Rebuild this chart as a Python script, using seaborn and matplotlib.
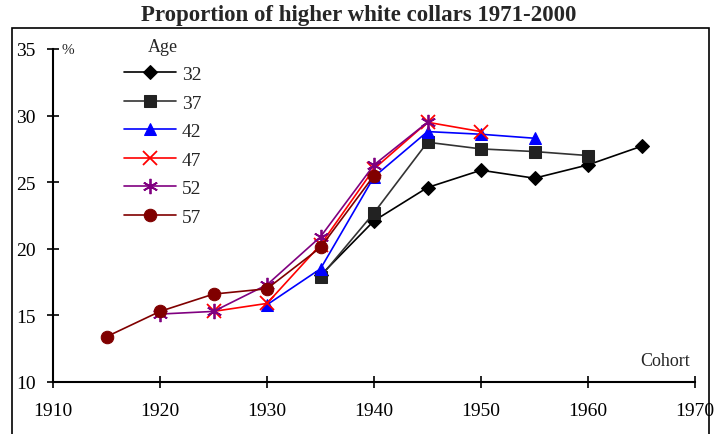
import pandas as pd
import matplotlib
matplotlib.use('Agg')
import matplotlib.pyplot as plt
import seaborn as sns

# cohort values per age group
ages = ['32', '37', '42', '47', '52', '57']
cohorts_32 = [1935, 1940, 1945, 1950, 1955, 1960, 1965]
values_32 = [18.0, 22.1, 24.6, 25.9, 25.3, 26.3, 27.7]
cohorts_37 = [1935, 1940, 1945, 1950, 1955, 1960]
values_37 = [17.9, 22.7, 28.0, 27.5, 27.3, 27.0]
cohorts_42 = [1930, 1935, 1940, 1945, 1950, 1955]
values_42 = [15.8, 18.5, 25.4, 28.8, 28.6, 28.3]
cohorts_47 = [1925, 1930, 1935, 1940, 1945, 1950]
values_47 = [15.3, 15.9, 20.3, 26.0, 29.5, 28.8]
cohorts_52 = [1920, 1925, 1930, 1935, 1940, 1945]
values_52 = [15.1, 15.3, 17.3, 20.9, 26.3, 29.5]
cohorts_57 = [1915, 1920, 1925, 1930, 1935, 1940]
values_57 = [13.4, 15.3, 16.6, 17.0, 20.1, 25.5]

x_ticks = [1910, 1920, 1930, 1940, 1950, 1960, 1970]
y_ticks = [10, 15, 20, 25, 30, 35]

series = {
    '32': (cohorts_32, values_32),
    '37': (cohorts_37, values_37),
    '42': (cohorts_42, values_42),
    '47': (cohorts_47, values_47),
    '52': (cohorts_52, values_52),
    '57': (cohorts_57, values_57),
}
styles = {
    '32': dict(color='black', marker='D', markersize=7, mec='black'),
    '37': dict(color='#333333', marker='s', markersize=9, mec='#222222', mfc='#222222'),
    '42': dict(color='blue', marker='^', markersize=9, mec='blue'),
    '47': dict(color='red', marker='x', markersize=10, mec='red', mew=1.3),
    '52': dict(color='#800080', marker=(6, 2, 0), markersize=11, mec='#800080', mew=1.3),
    '57': dict(color='#800000', marker='o', markersize=9, mec='#800000'),
}

sns.set_style('white')
plt.rcParams['font.family'] = ['Liberation Serif', 'DejaVu Serif']

fig = plt.figure(figsize=(7.17, 4.35), dpi=100)
ax = fig.add_axes([53 / 717, 1 - 383 / 435, 642 / 717, 333 / 435])

for age in ages:
    xs, ys = series[age]
    df = pd.DataFrame({'cohort': xs, 'pct': ys})
    sns.lineplot(data=df, x='cohort', y='pct', ax=ax, label=age, lw=1.2, **styles[age])

ax.set_xlim(1910, 1970)
ax.set_ylim(10, 35)
ax.set_xticks(x_ticks)
ax.set_yticks(y_ticks)
ax.set_xlabel('')
ax.set_ylabel('')
ax.tick_params(bottom=True, left=True, direction='inout', length=9, width=1.2,
               labelsize=14, colors='black')
ax.tick_params(axis='y', pad=8)
ax.tick_params(axis='x', pad=10)
for s in ['top', 'right']:
    ax.spines[s].set_visible(False)
for s in ['left', 'bottom']:
    ax.spines[s].set_linewidth(1.5)
    ax.spines[s].set_color('black')
    ax.spines[s].set_zorder(0.5)

leg = ax.legend(title='Age', loc='upper left', bbox_to_anchor=(114 / 717, 1 - 29 / 435),
                bbox_transform=fig.transFigure, frameon=False, fontsize=14,
                title_fontsize=13, handlelength=2.7, labelspacing=0.56,
                handletextpad=0.3, borderpad=0)

fig.text(62 / 717, 1 - 50 / 435, '%', fontsize=11, va='center', ha='left')
fig.text(690 / 717, 1 - 362 / 435, 'Cohort', fontsize=13, va='center', ha='right')
fig.suptitle('Proportion of higher white collars 1971-2000', x=0.5, y=1 - 15 / 435,
             va='center', fontsize=16.5, fontweight='bold')

border = plt.Rectangle((12 / 717, -0.02), 697 / 717, 1 - 29 / 435 + 0.02,
                       transform=fig.transFigure, fill=False, lw=1.2, ec='black')
fig.patches.append(border)

fig.savefig('out.png', dpi=100)
